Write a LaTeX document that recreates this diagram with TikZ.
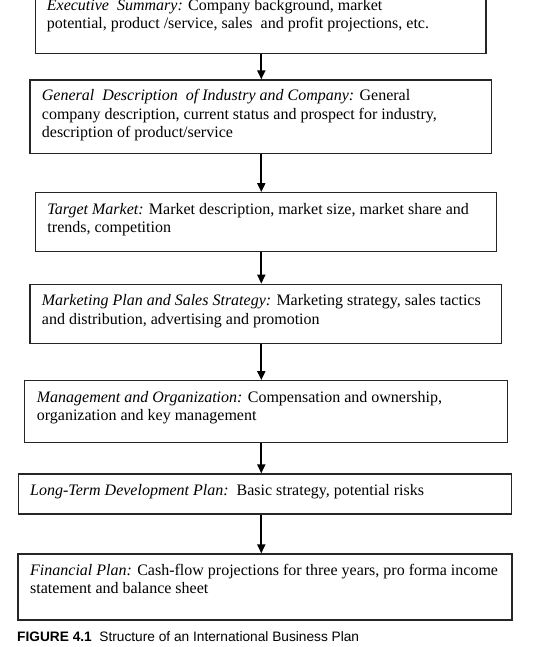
\documentclass[tikz,border=0pt]{standalone}
\usepackage{fontspec}
\setmainfont{Liberation Serif}
\newfontfamily\capfont{Liberation Sans}
\usetikzlibrary{arrows.meta}
\begin{document}
\begin{tikzpicture}[x=1bp,y=-1bp,
  boxstyle/.style={draw=black!85, line width=1.3bp, inner sep=0pt},
  txt/.style={anchor=base west, inner sep=0pt, align=left, font=\fontsize{16bp}{18.4bp}\selectfont},
  conn/.style={line width=1.8bp, -{Triangle[length=9bp,width=8bp]}}]
\useasboundingbox (0,0) rectangle (551,647);
\fill[white] (0,0) rectangle (551,647);
% boxes
\node[boxstyle, minimum width=450.3bp, minimum height=64.3bp] (b1) at (260.85,21.15) {};
\node[boxstyle, minimum width=461.3bp, minimum height=73.3bp] (b2) at (260.65,116.65) {};
\node[boxstyle, minimum width=461bp, minimum height=59bp] (b3) at (266.2,222.2) {};
\node[boxstyle, minimum width=471.7bp, minimum height=59bp] (b4) at (265.85,313.8) {};
\node[boxstyle, minimum width=483bp, minimum height=61.6bp] (b5) at (265.8,411.5) {};
\node[boxstyle, minimum width=493.4bp, minimum height=40bp] (b6) at (265,494) {};
\node[boxstyle, minimum width=494bp, minimum height=66bp] (b7) at (265,587) {};
% texts (anchor = baseline of last line)
\node[txt] (t1) at (46.7,28.9) {\textit{Executive\ \ Summary:} Company background, market\\potential, product /service, sales\ \ and profit projections, etc.};
\node[txt] (t2) at (41.7,137.7) {\textit{General\ \ Description\ \ of Industry and Company:} General\\company description, current status and prospect for industry,\\description of product/service};
\node[txt] (t3) at (47.3,232.6) {\textit{Target Market:} Market description, market size, market share and\\trends, competition};
\node[txt] (t4) at (41.7,324.2) {\textit{Marketing Plan and Sales Strategy:} Marketing strategy, sales tactics\\and distribution, advertising and promotion};
\node[txt] (t5) at (36.7,420.8) {\textit{Management and Organization:} Compensation and ownership,\\organization and key management};
\node[txt] (t6) at (30,495.3) {\textit{Long-Term Development Plan:}\ \ Basic strategy, potential risks};
\node[txt] (t7) at (30,593.9) {\textit{Financial Plan:} Cash-flow projections for three years, pro forma income\\statement and balance sheet};
% connectors
\coordinate (ax) at (261.3,0);
\draw[conn] (b1.south -| ax) -- (b2.north -| ax);
\draw[conn] (b2.south -| ax) -- (b3.north -| ax);
\draw[conn] (b3.south -| ax) -- (b4.north -| ax);
\draw[conn] (b4.south -| ax) -- (b5.north -| ax);
\draw[conn] (b5.south -| ax) -- (b6.north -| ax);
\draw[conn] (b6.south -| ax) -- (b7.north -| ax);
% caption
\node[anchor=base west, inner sep=0pt, font=\capfont\fontsize{13.7bp}{15bp}\selectfont] (cap) at (17,641) {\textbf{FIGURE 4.1}\ \ Structure of an International Business Plan};
\end{tikzpicture}
\end{document}
